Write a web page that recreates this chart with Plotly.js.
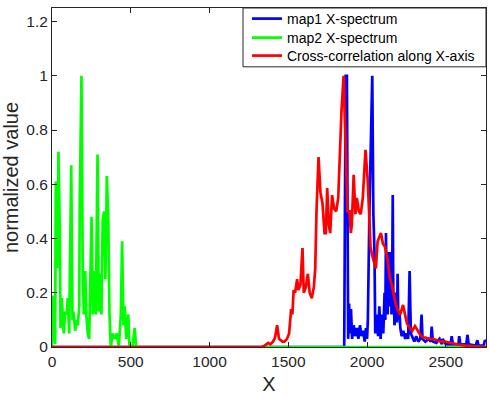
<!DOCTYPE html>
<html>
<head>
<meta charset="utf-8">
<script src="https://cdn.plot.ly/plotly-3.0.1.min.js"></script>
<style>
html,body{margin:0;padding:0;background:#fff;}
#chart{width:490px;height:397px;}
</style>
</head>
<body>
<div id="chart"></div>
<script>
// map1 X-spectrum (blue)
const map1X = [0, 1855, 1864, 1872, 1880, 1886, 1892, 1898, 1905, 1915, 1925, 1935, 1945, 1955, 1965, 1975, 1985, 1993, 2000, 2005, 2015, 2025, 2033, 2040, 2047, 2052, 2062, 2070, 2078, 2086, 2094, 2103, 2107, 2111, 2116, 2120, 2124, 2127, 2131, 2134, 2139, 2143, 2147, 2151, 2155, 2159, 2163, 2167, 2170, 2174, 2177, 2182, 2186, 2190, 2194, 2198, 2201, 2206, 2211, 2220, 2230, 2242, 2252, 2261, 2270, 2278, 2290, 2300, 2312, 2325, 2338, 2346, 2352, 2370, 2390, 2405, 2410, 2418, 2440, 2460, 2475, 2480, 2500, 2530, 2537, 2545, 2580, 2585, 2592, 2630, 2637, 2645, 2690, 2700, 2708, 2740, 2748, 2755];
const map1Y = [0, 0, 1.0, 1.0, 0.03, 0.16, 0.05, 0.14, 0.03, 0.08, 0.04, 0.07, 0.03, 0.08, 0.04, 0.06, 0.02, 0.07, 0.03, 0.1, 0.5, 0.85, 1.0, 0.49, 0.35, 0.05, 0.12, 0.04, 0.15, 0.03, 0.12, 0.05, 0.14, 0.2, 0.1, 0.42, 0.15, 0.25, 0.12, 0.35, 0.18, 0.15, 0.3, 0.35, 0.12, 0.2, 0.56, 0.14, 0.2, 0.08, 0.1, 0.18, 0.2, 0.09, 0.27, 0.12, 0.1, 0.13, 0.07, 0.04, 0.06, 0.03, 0.05, 0.03, 0.28, 0.05, 0.03, 0.02, 0.04, 0.02, 0.03, 0.12, 0.03, 0.02, 0.03, 0.02, 0.075, 0.02, 0.015, 0.03, 0.01, 0.03, 0.01, 0.01, 0.04, 0.01, 0.01, 0.04, 0.01, 0.01, 0.045, 0.01, 0.005, 0.025, 0.005, 0.005, 0.025, 0.02];

// map2 X-spectrum (green)
const map2X = [0, 3, 20, 24, 33, 41, 49, 54, 62, 75, 84, 94, 100, 109, 122, 130, 136, 147, 157, 164, 173, 176, 187, 195, 202, 211, 219, 227, 236, 244, 251, 259, 268, 278, 289, 297, 306, 314, 322, 331, 339, 348, 357, 365, 373, 386, 398, 411, 424, 437, 445, 454, 462, 471, 484, 492, 511, 525, 534, 2755];
const map2Y = [0, 0.19, 0.01, 0.61, 0.29, 0.72, 0.45, 0.07, 0.18, 0.05, 0.13, 0.12, 0.18, 0.05, 0.67, 0.1, 0.13, 0.06, 0.1, 0.08, 0.15, 0.52, 1.0, 0.3, 0.12, 0.28, 0.11, 0.05, 0.03, 0.27, 0.48, 0.12, 0.28, 0.12, 0.71, 0.13, 0.27, 0.12, 0.47, 0.5, 0.25, 0.63, 0.48, 0.12, 0.0, 0.05, 0.03, 0.05, 0.0, 0.12, 0.39, 0.08, 0.15, 0.03, 0.12, 0.0, 0.0, 0.07, 0.0, 0.0];

// Cross-correlation along X-axis (red)
const xcorrX = [0, 1330, 1350, 1372, 1386, 1403, 1416, 1429, 1441, 1463, 1475, 1492, 1505, 1518, 1526, 1534, 1543, 1556, 1564, 1577, 1590, 1598, 1611, 1624, 1636, 1649, 1662, 1671, 1679, 1692, 1704, 1717, 1730, 1738, 1747, 1757, 1766, 1778, 1791, 1804, 1817, 1825, 1838, 1851, 1859, 1868, 1876, 1889, 1897, 1903, 1915, 1926, 1935, 1948, 1960, 1973, 1990, 2004, 2013, 2022, 2031, 2044, 2056, 2067, 2088, 2101, 2114, 2131, 2143, 2160, 2177, 2194, 2211, 2228, 2241, 2253, 2270, 2287, 2304, 2321, 2338, 2355, 2372, 2389, 2413, 2447, 2470, 2494, 2525, 2571, 2625, 2700, 2755];
const xcorrY = [0, 0, 0.005, 0.015, 0.01, 0.02, 0.035, 0.08, 0.03, 0.02, 0.02, 0.03, 0.05, 0.14, 0.12, 0.21, 0.2, 0.25, 0.21, 0.23, 0.365, 0.2, 0.22, 0.27, 0.2, 0.18, 0.22, 0.29, 0.5, 0.70, 0.57, 0.53, 0.42, 0.42, 0.586, 0.45, 0.42, 0.56, 0.51, 0.5, 0.55, 0.68, 0.875, 1.0, 0.85, 0.65, 0.5, 0.5, 0.42, 0.45, 0.635, 0.49, 0.55, 0.5, 0.49, 0.55, 0.727, 0.616, 0.47, 0.37, 0.34, 0.31, 0.29, 0.39, 0.42, 0.38, 0.37, 0.32, 0.26, 0.22, 0.17, 0.137, 0.12, 0.155, 0.12, 0.088, 0.07, 0.06, 0.077, 0.06, 0.045, 0.035, 0.035, 0.03, 0.03, 0.025, 0.02, 0.02, 0.015, 0.01, 0.005, 0.003, 0];

const seriesNames = ['map1 X-spectrum', 'map2 X-spectrum', 'Cross-correlation along X-axis'];
const seriesColors = ['#0000FF', '#00FF00', '#FF0000'];

const FONT = '"Liberation Sans", Arial, Helvetica, sans-serif';
const AX = '#262626';

const traces = [
  {x: map1X, y: map1Y, name: seriesNames[0], legend: 'legend', type: 'scatter', mode: 'lines', line: {color: seriesColors[0], width: 2.7}},
  {x: map2X, y: map2Y, name: seriesNames[1], legend: 'legend2', type: 'scatter', mode: 'lines', line: {color: seriesColors[1], width: 2.7}},
  {x: xcorrX, y: xcorrY, name: seriesNames[2], legend: 'legend3', type: 'scatter', mode: 'lines', line: {color: seriesColors[2], width: 2.7}}
];

function legendRow(yPaper) {
  return {
    x: 0.4493, xanchor: 'left', y: yPaper, yanchor: 'middle',
    bgcolor: 'rgba(0,0,0,0)', borderwidth: 0,
    font: {family: FONT, size: 14, color: '#000'}
  };
}

const layout = {
  width: 490, height: 397,
  margin: {l: 52, r: 4, t: 7, b: 50, pad: 0},
  paper_bgcolor: '#fff', plot_bgcolor: '#fff',
  font: {family: FONT, color: AX, size: 15.5},
  showlegend: true,
  legend: legendRow(0.9647),
  legend2: legendRow(0.9088),
  legend3: legendRow(0.8559),
  shapes: [{
    type: 'rect', xref: 'paper', yref: 'paper',
    x0: 0.4401, x1: 1.0, y0: 0.8265, y1: 1.0,
    line: {color: AX, width: 1}, fillcolor: '#fff', layer: 'above'
  }],
  xaxis: {
    range: [0, 2755], tickmode: 'linear', tick0: 0, dtick: 500,
    showgrid: false, zeroline: false, showline: true, linecolor: AX, linewidth: 1,
    mirror: 'ticks', ticks: 'inside', ticklen: 5, tickcolor: AX, tickwidth: 1,
    tickfont: {family: FONT, size: 15.5, color: AX},
    title: {text: 'X', font: {family: FONT, size: 20, color: AX}, standoff: 8}
  },
  yaxis: {
    range: [0, 1.25], tickmode: 'linear', tick0: 0, dtick: 0.2,
    showgrid: false, zeroline: false, showline: true, linecolor: AX, linewidth: 1,
    mirror: 'ticks', ticks: 'inside', ticklen: 5, tickcolor: AX, tickwidth: 1,
    tickfont: {family: FONT, size: 15.5, color: AX},
    title: {text: 'normalized value', font: {family: FONT, size: 20, color: AX}, standoff: 4}
  }
};

Plotly.newPlot('chart', traces, layout, {displayModeBar: false, staticPlot: true});
</script>
</body>
</html>
